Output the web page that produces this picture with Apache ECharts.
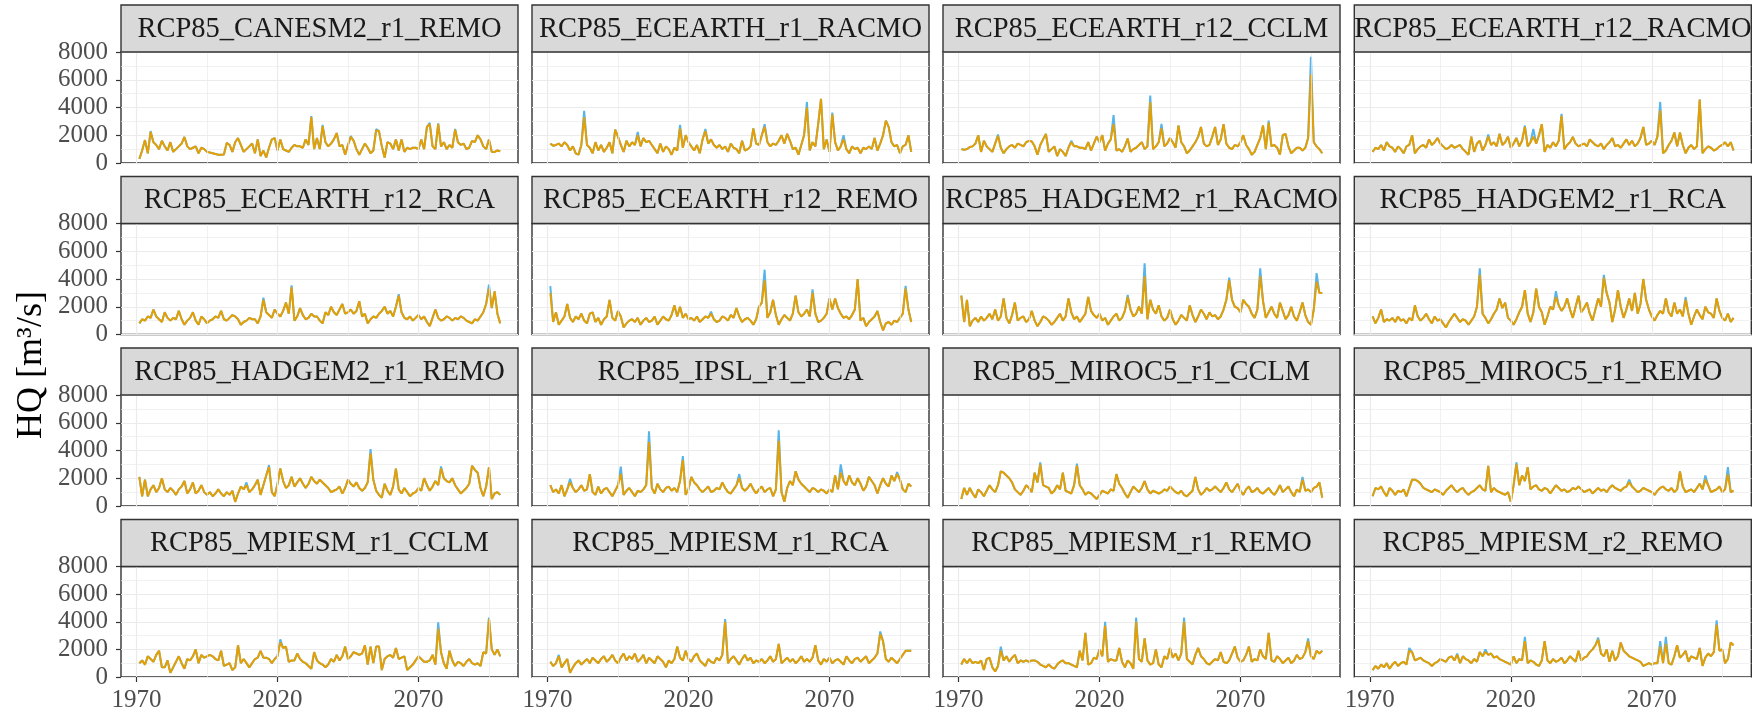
<!DOCTYPE html>
<html><head><meta charset="utf-8">
<script src="https://cdn.jsdelivr.net/npm/echarts@6/dist/echarts.min.js"></script>
<style>html,body{margin:0;padding:0;background:#fff}#c{width:1752px;height:713px}</style>
</head><body><div id="c"></div>
<script>
// ---------------- DATA ----------------
const firstYear = 1971; // series run 1971..2099
const panelNames = [
  'RCP85_CANESM2_r1_REMO','RCP85_ECEARTH_r1_RACMO','RCP85_ECEARTH_r12_CCLM','RCP85_ECEARTH_r12_RACMO',
  'RCP85_ECEARTH_r12_RCA','RCP85_ECEARTH_r12_REMO','RCP85_HADGEM2_r1_RACMO','RCP85_HADGEM2_r1_RCA',
  'RCP85_HADGEM2_r1_REMO','RCP85_IPSL_r1_RCA','RCP85_MIROC5_r1_CCLM','RCP85_MIROC5_r1_REMO',
  'RCP85_MPIESM_r1_CCLM','RCP85_MPIESM_r1_RCA','RCP85_MPIESM_r1_REMO','RCP85_MPIESM_r2_REMO'
];
const xLabelTicks = [1970, 2020, 2070];
const xMinorLines = [1995, 2045, 2095];
const yTickStep = 2000;

// orange series (HQ, m3/s), one value per year 1971..2099
const hq_CANESM2_r1_REMO = [300,900,1650,700,2230,1500,1300,1000,1600,1200, 900,1500,800,1000,1200,1400,1880,1200,1000,1100, 1200,700,1100,1000,800,750,700,650,600,600, 620,1450,1300,800,1500,1800,1300,800,1000,1200, 1400,700,1700,500,900,400,1100,1700,1800,900, 1700,1000,900,800,1100,1300,1200,1200,1100,1700, 1300,3300,1000,1800,1000,2650,1500,1200,1400,1700, 2160,1200,1300,600,1300,1880,1600,1000,600,1000, 1400,1100,700,900,2350,2300,1200,400,1500,1400, 1000,1700,900,1700,800,1100,1000,1100,1100,1000, 1700,1000,2600,2800,1200,1000,2800,1200,1500,1000, 1300,1100,2400,1500,1300,1400,1000,1100,1600,1500, 2000,1700,1200,1000,1700,800,800,900,850];
const hq_ECEARTH_r1_RACMO = [1400,1250,1300,1400,1200,1500,1300,900,1200,700, 600,1300,3300,1300,1100,700,1500,900,1300,800, 1100,1500,700,2400,1900,1300,800,1600,1200,1500, 1300,2000,1200,1800,1500,1600,1300,1000,700,1400, 800,1200,1000,600,1100,900,2500,1100,2000,1500, 1200,900,1300,700,1700,2300,1400,1700,1300,1100, 1300,1000,1200,800,1400,1100,1000,700,1600,900, 1000,1200,2500,1400,1300,2000,2600,1500,1200,1400, 1300,1600,2000,1400,2100,1600,1000,1100,600,1300, 2000,4000,900,1500,1200,2800,4630,1000,1700,800, 3500,1500,900,1200,1700,1000,700,1200,1000,1100, 700,1100,1000,1200,1000,1800,900,1400,2000,3050, 2600,1500,1200,1300,700,1200,1300,2000,800];
const hq_ECEARTH_r12_CCLM = [1000,950,1000,1150,1200,1400,2000,800,1600,1200, 1000,800,1400,1950,1100,700,1000,1200,1300,1100, 1400,1300,1200,1500,1600,1550,1200,600,1300,1700, 2100,800,1000,1200,500,1000,800,500,1100,1500, 1200,1200,1100,1100,1000,1500,900,1400,1900,1500, 2000,900,1400,1700,2800,900,1000,800,1200,1760, 800,1000,1100,1300,1500,1000,1200,4400,1000,1200, 1500,2500,1200,1400,1800,1500,1100,2700,1500,1200, 700,900,1200,1500,1900,2600,1400,1200,1300,1900, 2600,1300,1700,2800,1400,1100,1000,1300,1200,1500, 2000,1300,1000,600,800,1300,1800,2700,1000,2900, 1200,1300,1100,600,2000,2100,1200,700,900,1100, 1100,900,1100,1800,6400,1500,1200,1000,700];
const hq_ECEARTH_r12_RACMO = [800,1100,1000,1300,900,1500,1200,1100,800,1200, 1000,700,1200,1300,2000,700,1000,1200,1300,1100, 1700,1300,1500,1800,1400,1200,1000,1100,1300,1100, 1200,1300,1000,800,600,1900,800,1400,1600,900, 1300,1900,1300,1500,1200,2100,1300,1500,1900,1100, 1400,1800,1200,1600,2600,1200,1500,1900,1400,2000, 2800,800,1300,1100,1500,1200,1600,3400,1000,1300, 1500,1880,1400,1200,1300,1400,1200,1700,1500,1300, 1200,1400,1000,1300,1500,1800,1200,1300,1100,1400, 1700,1300,1600,1200,1400,1800,2600,1300,1400,1600, 1300,1900,3800,700,900,1300,1600,2200,1200,2200, 1300,700,1100,1300,1000,1200,4580,700,1000,1200, 1100,900,1000,1200,1300,1500,1200,1500,900];
const hq_ECEARTH_r12_RCA = [800,1100,1000,1300,1200,1800,1300,1100,900,1600, 1200,1000,1200,1100,1700,1100,700,1000,1200,1600, 1000,700,1300,1100,800,1000,1100,1300,1200,1700, 1100,1000,1200,1400,1300,1100,700,900,1000,1200, 1100,1100,800,1300,2500,1600,1400,1200,1800,1500, 1300,1700,2300,1500,3400,1000,1300,1900,1400,1100, 1200,1500,1300,1300,1000,800,1600,1400,2000,1600, 1400,1800,2200,1500,1600,1800,1500,1700,2400,1300, 1500,800,1100,1300,1200,1500,1700,2000,1500,1700, 1300,2000,2800,1600,1200,1100,1300,1000,1200,1400, 1100,1300,900,600,1200,1800,1200,1000,1100,1300, 1200,1000,1200,1100,1300,1200,1000,900,800,1100, 1000,1300,1600,2200,3300,1900,3100,1500,800];
const hq_ECEARTH_r12_REMO = [3000,900,1600,700,1000,1300,2200,1200,900,1300, 1100,1500,1000,800,1500,1600,900,1200,700,1100, 1300,2500,1200,1000,1700,1300,500,800,1000,1100, 900,1200,700,1000,1200,900,1000,1300,700,1000, 1300,1100,1000,1400,2100,1300,2000,1200,1500,1100, 1200,1000,1300,900,1100,1300,1200,1500,1100,900, 1000,1300,1200,1000,1400,1200,1900,1300,900,1100, 1200,1000,700,1100,2000,2300,3900,1200,1600,2500, 1400,700,1100,1400,1200,1000,1500,2800,1600,1300, 1500,1800,1300,3000,1500,900,1000,1200,1500,2600, 1800,2600,1900,1500,1200,1300,1100,1400,1800,4000, 1000,1200,600,900,1100,1300,1700,900,300,800, 900,700,1000,900,1200,1500,3300,1800,900];
const hq_HADGEM2_r1_RACMO = [2800,900,2500,600,1000,1200,900,1300,1000,1200, 1500,1100,1800,1000,1300,2600,1200,800,1400,2300, 1000,1200,1300,900,1100,1700,1000,600,900,1300, 1200,1000,700,900,1200,1500,1000,1300,2600,1600, 1100,1300,900,1200,1500,2700,1700,1400,1200,1500, 1000,1200,700,1000,1300,1500,1000,1200,1700,2700, 1800,1300,1500,2000,1500,4200,1100,2500,1800,1500, 2100,1300,1000,1200,1800,1100,700,1000,1400,1200, 1000,2100,1400,900,1300,1800,1500,1100,1600,1300, 1400,1100,1300,1800,2500,3900,2500,2000,1900,1600, 2500,2200,2000,1500,1200,1800,4200,2400,1200,1600, 2000,1500,1200,2300,1700,1100,1400,2000,1300,1000, 1600,2300,1400,900,700,1800,3800,3000,3000];
const hq_HADGEM2_r1_RCA = [1300,800,1200,1800,900,1100,1000,1200,900,1300, 1000,1100,800,1200,1000,2100,1300,1000,1200,1500, 1100,800,1300,1000,1100,800,500,900,1200,1500, 1200,900,1100,1000,700,1000,1300,2000,4300,1500, 1200,800,1100,1500,1800,2600,1900,2300,1200,1000, 700,1100,1600,2000,3200,1500,900,1600,3300,2000, 1600,700,1300,2000,1800,2700,2100,1700,2000,2600, 1800,1200,2000,2800,1600,1900,2300,1500,1000,1800, 2600,2000,4100,3000,2300,900,1800,3200,2000,1200, 1800,2600,1700,3000,1500,2200,4000,2500,1800,1300, 1000,1400,1700,1500,2600,1600,1300,2300,1500,1800, 1300,2500,1500,700,1300,1800,1400,1100,2000,1600, 1500,1200,2600,1700,1200,1000,1500,900,1200];
const hq_HADGEM2_r1_REMO = [2100,700,1900,700,1200,1500,1000,1300,2000,1200, 1000,1300,1100,800,1200,1400,1800,900,1200,1700, 900,1100,1500,1000,800,1000,700,900,1200,900, 700,1000,800,1100,300,900,1400,1200,1500,1000, 1200,1500,1900,800,1500,2200,2800,1000,700,1600, 2700,1800,1300,1500,2100,1400,1700,2000,1600,1300, 1600,2100,1800,1600,1900,1700,1500,1300,1000,1100, 1200,1400,900,1300,1900,1600,1400,1700,1300,1100, 1300,1700,3800,1900,1100,800,600,1600,1100,800, 1400,2700,1200,900,1300,1000,700,900,1000,1300, 1100,2000,1500,1100,1400,1800,1500,2700,2000,1800, 1700,2000,1500,1200,900,1100,1300,1600,2900,2600, 2400,1300,700,1400,2800,500,900,1000,800];
const hq_IPSL_r1_RCA = [1500,1000,1200,900,1500,700,1200,1700,1300,1000, 1200,1500,1100,1200,2300,1000,800,1400,900,1200, 1300,1000,700,1100,1500,2300,800,1100,1300,1000, 700,1100,1000,1200,1500,4600,1300,900,1600,1200, 1000,1300,1400,1100,1300,1000,1800,3300,800,1200, 2100,1700,1500,1200,1000,1200,1400,1000,1100,1300, 1200,1700,1300,1000,900,1200,1500,2000,1300,1100, 1300,1600,1200,900,1200,1400,1000,1200,1300,700, 1200,4700,1000,300,1300,1800,1500,2500,1900,1600, 1400,1200,1000,1300,1200,1000,1200,1100,900,1200, 1000,2200,1200,2400,1800,1500,2200,1700,1500,2000, 1600,1100,1400,2100,1800,1500,900,1500,2000,1600, 1400,2200,1800,2300,1900,1200,1000,1600,1400];
const hq_MIROC5_r1_CCLM = [500,1300,800,1300,900,600,1200,1000,700,1100, 1500,1200,1000,1500,2500,2400,2200,2000,1700,1200, 1000,800,1100,1500,1300,1000,2400,1700,3000,1500, 1400,1300,900,1100,1500,1200,2400,1100,1000,900, 1500,2900,1500,1200,800,1000,900,700,500,800, 1100,1000,900,1200,1100,2300,1600,1300,900,600, 1000,1400,1200,1000,1300,1800,1200,900,1100,1000, 900,1000,1200,1100,1400,1200,1000,900,1100,800, 700,900,1100,2100,1200,800,1000,1300,1100,1200, 1400,1200,1000,1300,1700,1200,1000,1300,1600,1100, 800,1200,1400,1000,1100,1300,1000,900,1100,1300, 1000,800,1100,1500,1000,1200,1400,1000,700,1200, 1000,1900,1100,1200,1000,1300,1400,1700,600];
const hq_MIROC5_r1_REMO = [700,1300,1200,1400,1000,700,1300,1100,800,1100, 1000,1200,700,1300,1900,1900,1800,1600,1300,1200, 1100,1000,1200,1100,1000,800,1100,1300,1500,1200, 1000,1200,1300,1000,800,1000,1100,1300,1500,1200, 1100,2900,1000,1300,1100,1000,900,800,1000,300, 1500,3000,1500,2200,1800,2800,1200,1400,1500,1200, 1100,1300,1200,900,1200,1500,1300,1100,1200,1000, 1100,1300,1200,1400,1200,1000,1100,1200,900,1100, 1300,1100,1200,1000,1300,1500,1300,1200,1100,1300, 1400,1700,1400,1200,1000,1100,1300,1200,1100,1000, 800,1100,1300,1400,1200,1100,1300,1000,1200,2500, 1400,1000,1100,1200,1000,1300,1600,1200,1900,1500, 1000,1100,1200,1400,1000,1200,2300,1000,1100];
const hq_MPIESM_r1_CCLM = [1000,1200,900,1500,1300,1100,1600,1900,700,700, 1200,300,700,1100,1500,1000,600,1300,1200,1500, 2000,1000,1600,1400,1500,1600,1500,1300,1200,1900, 800,900,1000,500,700,2300,1000,1300,1000,700, 1000,1300,1400,1900,1400,1400,1300,1000,1300,1500, 2500,2100,2200,1100,1200,1200,1700,1300,1100,1000, 800,600,1800,1200,1000,900,700,900,1300,1100, 1600,1200,1500,2200,1300,1500,1800,1700,1600,1700, 2300,900,2200,1000,2200,2200,500,1300,1500,1600, 1400,2100,1300,1400,1500,500,700,900,1200,1500, 1300,1100,1100,1200,1600,900,3500,1800,1000,600, 1900,1200,800,1100,1000,800,1100,1300,1000,900, 1000,800,1800,1700,4200,2000,1600,2000,1500];
const hq_MPIESM_r1_RCA = [1100,800,1000,1500,700,1000,1300,300,700,1000, 1200,900,1100,1300,1000,1400,1200,1000,1300,1500, 1100,1300,1600,1200,1000,1400,1700,1200,1500,1300, 1700,1100,1300,1600,1000,1400,1200,1000,1500,1300, 1100,700,1200,1000,1300,2200,1400,1200,1900,1300, 1100,1500,1700,1200,1000,800,1300,1100,1000,1400, 1200,1600,4000,1000,1300,1500,1200,900,1300,1600, 1200,1400,1000,1200,1100,1300,1000,1200,1500,1100, 1300,2400,1000,1200,1400,1100,1300,1000,1200,1500, 1100,1300,1100,1400,2300,1200,900,1300,1100,1400, 1000,1200,1300,1100,900,1500,1200,1000,1300,1400, 1100,1300,1500,1000,1200,1400,1700,3100,2600,1300, 1100,1400,1200,1000,1300,1600,1900,1900,1900];
const hq_MPIESM_r1_REMO = [900,1300,1000,1300,1000,1100,1000,1200,500,1300, 1400,700,400,800,1900,1200,1500,1100,1400,1600, 1000,1200,1100,1200,1100,1200,1200,1100,900,800, 700,900,700,600,900,1100,1200,1000,1000,900, 800,700,1900,1200,3200,900,1000,1400,1300,2000, 1500,3700,1100,1300,1200,1200,2100,1100,700,1200, 1000,600,4000,1300,1100,2800,1200,900,1000,2000, 900,700,1500,1300,2100,1400,1700,1200,1700,4000, 1300,1100,900,1600,2100,1500,1300,1000,900,1100, 1300,1200,1800,1100,1000,1200,1700,2200,1400,1100, 1200,1600,2200,1100,1300,1200,2000,1500,1300,3200, 1200,1100,1500,1300,1000,1200,1400,1000,1200,1600, 1300,1400,1800,2600,1500,1300,1900,1700,1900];
const hq_MPIESM_r2_REMO = [500,800,600,900,700,1000,600,900,1100,800, 1000,1100,900,1900,1800,1200,1300,1400,1200,1100, 1000,800,1000,1100,1300,1200,1100,1400,1500,1200, 1600,1000,1500,1300,1200,1000,1300,1100,1800,1500, 1800,1600,1700,1400,1500,1300,1200,1100,1000,900, 1500,1000,1300,1200,2600,1000,1200,1100,900,800, 1200,2600,1200,1000,1300,1100,1200,1400,1000,1200, 1500,1300,1100,1900,1200,1400,1500,1800,2000,2300, 2700,1700,1500,2000,1100,1900,1200,1500,2500,1900, 1700,1500,1400,1300,1200,1100,800,900,1000,900, 1000,1000,2200,1000,2400,1000,900,1500,2300,1400, 1600,1900,1100,1500,1400,1300,2100,800,1400,1700, 1500,1800,3800,1900,2000,1000,1300,2500,2300];

// blue series: identical to orange except at these years, [year, value]
const blue_CANESM2_r1_REMO = [[1975,2300],[2032,3380],[2036,2750],[2046,1950],[2055,2450],[2074,2900],[2077,2850],[2083,2450]];
const blue_ECEARTH_r1_RACMO = [[1983,3760],[2002,2230],[2017,2750],[2026,2450],[2047,2800],[2062,4400],[2071,3640],[2075,2000]];
const blue_ECEARTH_r12_CCLM = [[1984,2050],[2010,1600],[2025,3450],[2038,4860],[2042,2820],[2080,3050],[2095,7650]];
const blue_ECEARTH_r12_RACMO = [[2012,2050],[2025,2700],[2028,2450],[2038,3550],[2073,4400]];
const blue_ECEARTH_r12_RCA = [[2015,2650],[2025,3550],[2063,2900],[2095,3600]];
const blue_ECEARTH_r12_REMO = [[1971,3490],[2028,1650],[2047,4670],[2064,3250],[2097,3500]];
const blue_HADGEM2_r1_RACMO = [[2030,2850],[2036,5140],[2066,4100],[2077,4770],[2097,4430]];
const blue_HADGEM2_r1_RCA = [[2009,4770],[2036,3120],[2053,4300],[2082,2700]];
const blue_HADGEM2_r1_REMO = [[2009,1700],[2017,2950],[2053,4100],[2078,2850]];
const blue_IPSL_r1_RCA = [[1978,1960],[1996,2840],[2006,5390],[2018,3600],[2038,2300],[2052,5460],[2074,3000],[2094,2450]];
const blue_MIROC5_r1_CCLM = [[1999,3150],[2012,3050],[2092,2100]];
const blue_MIROC5_r1_REMO = [[2022,3150],[2062,1900],[2089,2200],[2097,2800]];
const blue_MPIESM_r1_CCLM = [[2021,2730],[2077,3950],[2095,4300]];
const blue_MPIESM_r1_RCA = [[1974,1600],[2033,4200],[2088,3300]];
const blue_MPIESM_r1_REMO = [[1985,2200],[2022,4000],[2033,4300],[2050,4300],[2094,2800]];
const blue_MPIESM_r2_REMO = [[1984,2100],[2001,1700],[2011,2000],[2025,2900],[2051,2850],[2073,2600],[2075,2900],[2093,4100]];

const orangeSets = [hq_CANESM2_r1_REMO,hq_ECEARTH_r1_RACMO,hq_ECEARTH_r12_CCLM,hq_ECEARTH_r12_RACMO,
  hq_ECEARTH_r12_RCA,hq_ECEARTH_r12_REMO,hq_HADGEM2_r1_RACMO,hq_HADGEM2_r1_RCA,
  hq_HADGEM2_r1_REMO,hq_IPSL_r1_RCA,hq_MIROC5_r1_CCLM,hq_MIROC5_r1_REMO,
  hq_MPIESM_r1_CCLM,hq_MPIESM_r1_RCA,hq_MPIESM_r1_REMO,hq_MPIESM_r2_REMO];
const blueSets = [blue_CANESM2_r1_REMO,blue_ECEARTH_r1_RACMO,blue_ECEARTH_r12_CCLM,blue_ECEARTH_r12_RACMO,
  blue_ECEARTH_r12_RCA,blue_ECEARTH_r12_REMO,blue_HADGEM2_r1_RACMO,blue_HADGEM2_r1_RCA,
  blue_HADGEM2_r1_REMO,blue_IPSL_r1_RCA,blue_MIROC5_r1_CCLM,blue_MIROC5_r1_REMO,
  blue_MPIESM_r1_CCLM,blue_MPIESM_r1_RCA,blue_MPIESM_r1_REMO,blue_MPIESM_r2_REMO];

// ---------------- LAYOUT / STYLE ----------------
const colLeft = [121, 532, 943, 1354.3];
const rowTop = [5, 176.5, 348, 519.5];
const panelW = 397, stripH = 47, plotH = 111;
const FONT = '"Liberation Serif", "Times New Roman", serif';
const BLUE = '#56B4E9', ORANGE = '#E69F00';
const plainNum = v => String(Math.round(v));

const grids = [], xAxes = [], yAxes = [], series = [], graphics = [];
for (let i = 0; i < 16; i++) {
  const r = Math.floor(i / 4), c = i % 4;
  const left = colLeft[c], top = rowTop[r];
  grids.push({left: left, top: top + stripH, width: panelW, height: plotH,
    show: true, borderColor: '#333333', borderWidth: 1.4, backgroundColor: '#ffffff'});
  xAxes.push({gridIndex: i, type: 'value', min: 1964.5, max: 2105.3,
    splitLine: {show: false}, axisLine: {show: false},
    axisTick: {show: r === 3, customValues: xLabelTicks, length: 5, lineStyle: {color: '#333333', width: 1.2}},
    axisLabel: {show: r === 3, customValues: xLabelTicks, formatter: plainNum, color: '#4d4d4d', fontFamily: FONT, fontSize: 25, margin: 11}});
  yAxes.push({gridIndex: i, type: 'value', min: 0, max: 8000, interval: yTickStep,
    splitLine: {show: true, lineStyle: {color: '#ebebeb', width: 1.2}},
    minorTick: {show: false, splitNumber: 2},
    minorSplitLine: {show: true, lineStyle: {color: '#ebebeb', width: 0.7}},
    axisLine: {show: false},
    axisTick: {show: c === 0, length: 5, lineStyle: {color: '#333333', width: 1.2}},
    axisLabel: {show: c === 0, formatter: plainNum, color: '#4d4d4d', fontFamily: FONT, fontSize: 25, margin: 13}});

  const orange = orangeSets[i];
  const blue = orange.slice();
  blueSets[i].forEach(([yr, v]) => { blue[yr - firstYear] = v; });
  const oData = orange.map((v, k) => [firstYear + k, v]);
  const bData = blue.map((v, k) => [firstYear + k, v]);

  series.push({type: 'line', xAxisIndex: i, yAxisIndex: i, data: [], silent: true, z: 1,
    markLine: {silent: true, symbol: ['none', 'none'], label: {show: false}, animation: false,
      emphasis: {disabled: true},
      lineStyle: {color: '#ebebeb', type: 'solid', width: 1.2},
      data: xLabelTicks.map(v => ({xAxis: v})).concat(xMinorLines.map(v => ({xAxis: v, lineStyle: {color: '#ebebeb', type: 'solid', width: 0.7}})))}});
  series.push({type: 'line', xAxisIndex: i, yAxisIndex: i, data: bData, symbol: 'none', silent: true, z: 2,
    lineStyle: {color: BLUE, width: 2}, animation: false});
  series.push({type: 'line', xAxisIndex: i, yAxisIndex: i, data: oData, symbol: 'none', silent: true, z: 3,
    lineStyle: {color: ORANGE, width: 2}, animation: false});

  graphics.push({type: 'rect', shape: {x: left, y: top, width: panelW, height: stripH}, z: 10,
    style: {fill: '#d9d9d9', stroke: '#333333', lineWidth: 1.4}});
  graphics.push({type: 'text', x: left + panelW / 2, y: top + stripH / 2 + 1, z: 11,
    style: {text: panelNames[i], fill: '#1a1a1a', font: '28.5px ' + FONT, align: 'center', verticalAlign: 'middle'}});
}
graphics.push({type: 'text', x: 32, y: 365, rotation: Math.PI / 2, z: 11,
  style: {text: 'HQ [m³/s]', fill: '#000000', font: '36px ' + FONT, align: 'center', verticalAlign: 'middle'}});

const chart = echarts.init(document.getElementById('c'), null, {renderer: 'canvas'});
chart.setOption({
  animation: false,
  backgroundColor: '#ffffff',
  grid: grids, xAxis: xAxes, yAxis: yAxes, series: series, graphic: graphics
});
</script></body></html>
